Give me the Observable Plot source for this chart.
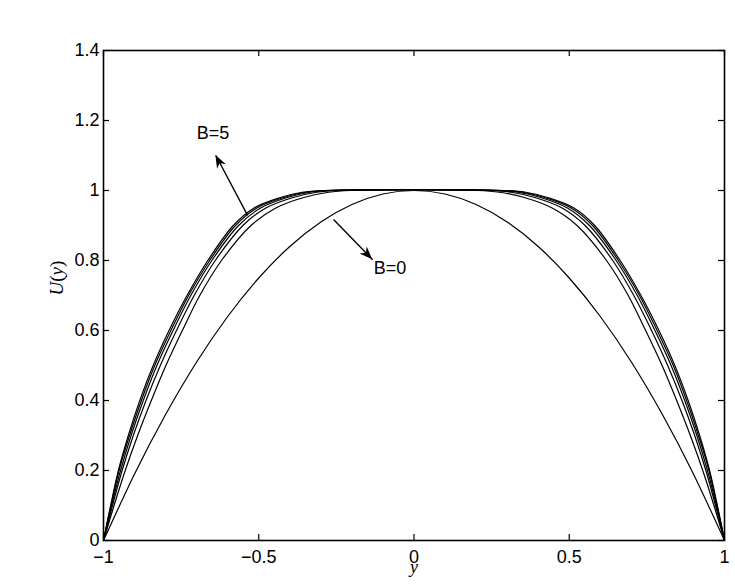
<!DOCTYPE html>
<html><head><meta charset="utf-8">
<script src="https://cdn.jsdelivr.net/npm/d3@7"></script>
<script src="https://cdn.jsdelivr.net/npm/@observablehq/plot@0.6"></script>
<style>html,body{margin:0;padding:0;background:#fff}</style>
</head><body><div id="chart"></div>
<script>
// ---- data ----
const bValues = [1, 2, 3, 4, 5];
// B = 0 : parabola-like profile sampled at y = -1 ... 1
const yB0 = [-1, -0.9, -0.8, -0.7, -0.6, -0.5, -0.4, -0.3, -0.2, -0.1, 0, 0.1, 0.2, 0.3, 0.4, 0.5, 0.6, 0.7, 0.8, 0.9, 1];
const uB0 = [0, 0.19, 0.36, 0.51, 0.64, 0.75, 0.84, 0.91, 0.96, 0.99, 1, 0.99, 0.96, 0.91, 0.84, 0.75, 0.64, 0.51, 0.36, 0.19, 0];
// B = 1..5 : |y| where each curve reaches the given U level (profiles are symmetric)
const uLevels = [0, 0.1, 0.2, 0.3, 0.4, 0.5, 0.6, 0.7, 0.8, 0.9, 0.95, 0.98, 0.995, 1];
const absY_B1 = [1, 0.966, 0.930, 0.890, 0.846, 0.799, 0.746, 0.690, 0.620, 0.525, 0.445, 0.355, 0.275, 0.205];
const absY_B2 = [1, 0.971, 0.940, 0.904, 0.863, 0.817, 0.765, 0.708, 0.640, 0.551, 0.477, 0.389, 0.313, 0.243];
const absY_B3 = [1, 0.974, 0.945, 0.911, 0.872, 0.828, 0.776, 0.719, 0.651, 0.565, 0.494, 0.408, 0.335, 0.265];
const absY_B4 = [1, 0.976, 0.950, 0.916, 0.878, 0.835, 0.783, 0.726, 0.658, 0.575, 0.506, 0.420, 0.349, 0.279];
const absY_B5 = [1, 0.977, 0.952, 0.920, 0.883, 0.840, 0.789, 0.731, 0.664, 0.582, 0.515, 0.430, 0.360, 0.290];
const absYs = [absY_B1, absY_B2, absY_B3, absY_B4, absY_B5];

const xTicks = [-1, -0.5, 0, 0.5, 1];
const xTickLabels = ["\u22121", "\u22120.5", "0", "0.5", "1"];
const yTicks = [0, 0.2, 0.4, 0.6, 0.8, 1, 1.2, 1.4];
const yTickLabels = ["0", "0.2", "0.4", "0.6", "0.8", "1", "1.2", "1.4"];

const annLabels = ["B=5", "B=0"];
const annX = [-0.647, -0.077];
const annU = [1.163, 0.779];
// arrows: from (x1,u1) on curve to tip (x2,u2)
const arrX1 = [-0.536, -0.259];
const arrU1 = [0.929, 0.917];
const arrX2 = [-0.638, -0.133];
const arrU2 = [1.100, 0.802];

// ---- tables ----
const parab = yB0.map((y, i) => ({y, u: uB0[i]}));
const others = [];
bValues.forEach((b, k) => {
  const a = absYs[k];
  for (let i = 0; i < uLevels.length; i++) others.push({B: b, y: -a[i], u: uLevels[i]});
  for (let i = uLevels.length - 1; i >= 0; i--) others.push({B: b, y: a[i], u: uLevels[i]});
});
const anns = annLabels.map((t, i) => ({t, x: annX[i], u: annU[i]}));
const arrows = arrX1.map((x1, i) => ({x1, u1: arrU1[i], x2: arrX2[i], u2: arrU2[i]}));

const W = 735, H = 585, mL = 103, mR = 11, mT = 50, mB = 45;
const innerW = W - mL - mR, innerH = H - mT - mB, tick = 6;
const sans = "Liberation Sans, Arial, Helvetica, sans-serif";
const serif = "Liberation Serif, Times New Roman, serif";

const plot = Plot.plot({
  width: W, height: H,
  marginLeft: mL, marginRight: mR, marginTop: mT, marginBottom: mB,
  style: {fontFamily: sans, background: "white", color: "black"},
  x: {domain: [-1, 1]},
  y: {domain: [0, 1.4]},
  marks: [
    Plot.line(parab, {x: "y", y: "u", curve: "natural", stroke: "black", strokeWidth: 1.2}),
    Plot.line(others, {x: "y", y: "u", z: "B", curve: "catmull-rom", stroke: "black", strokeWidth: 1.2}),
    Plot.link(arrows, {x1: "x1", y1: "u1", x2: "x2", y2: "u2", stroke: "black", strokeWidth: 1.4}),
    Plot.text(anns, {x: "x", y: "u", text: "t", fontSize: 18, fill: "black"}),
    Plot.tickX(xTicks, {x: d => d, insetTop: innerH - tick, stroke: "black", strokeWidth: 1.2}),
    Plot.tickX(xTicks, {x: d => d, insetBottom: innerH - tick, stroke: "black", strokeWidth: 1.2}),
    Plot.tickY(yTicks, {y: d => d, insetRight: innerW - tick, stroke: "black", strokeWidth: 1.2}),
    Plot.tickY(yTicks, {y: d => d, insetLeft: innerW - tick, stroke: "black", strokeWidth: 1.2}),
    Plot.frame({stroke: "black", strokeWidth: 1.6}),
    Plot.axisX(xTicks, {tickSize: 0, tickPadding: 10, fontSize: 18, label: null,
      tickFormat: d => xTickLabels[xTicks.indexOf(d)]}),
    Plot.axisY(yTicks, {tickSize: 0, tickPadding: 4, fontSize: 18, label: null,
      tickFormat: d => yTickLabels[yTicks.indexOf(d)]}),
    Plot.text(["y"], {frameAnchor: "bottom", dy: 32, fontSize: 18, fontStyle: "italic", fontFamily: serif}),
    Plot.text(["U(y)"], {frameAnchor: "left", dx: -47, rotate: -90, fontSize: 19, fontFamily: serif})
  ]
});

// filled arrowheads, placed through the plot's own scales
const sx = plot.scale("x"), sy = plot.scale("y");
const svg = d3.select(plot);
arrows.forEach(a => {
  const bx = sx.apply(a.x1), by = sy.apply(a.u1);
  const tx = sx.apply(a.x2), ty = sy.apply(a.u2);
  const len = Math.hypot(tx - bx, ty - by);
  const dx = (tx - bx) / len, dy = (ty - by) / len;
  const nx = -dy, ny = dx;
  const L = 13, w = 5, notch = 9;
  const p = [
    [tx, ty],
    [tx - L * dx + w * nx, ty - L * dy + w * ny],
    [tx - notch * dx, ty - notch * dy],
    [tx - L * dx - w * nx, ty - L * dy - w * ny]
  ];
  svg.append("path").attr("d", "M" + p.map(q => q.join(",")).join("L") + "Z").attr("fill", "black");
});

// italic math letters, upright parentheses for U(y)
svg.selectAll("text").filter(function () { return this.textContent === "U(y)"; }).each(function () {
  const t = d3.select(this);
  t.text(null);
  [["U", "italic"], ["(", "normal"], ["y", "italic"], [")", "normal"]].forEach(([s, st]) => {
    t.append("tspan").attr("font-style", st).text(s);
  });
});

document.getElementById("chart").appendChild(plot);
</script>
</body></html>
